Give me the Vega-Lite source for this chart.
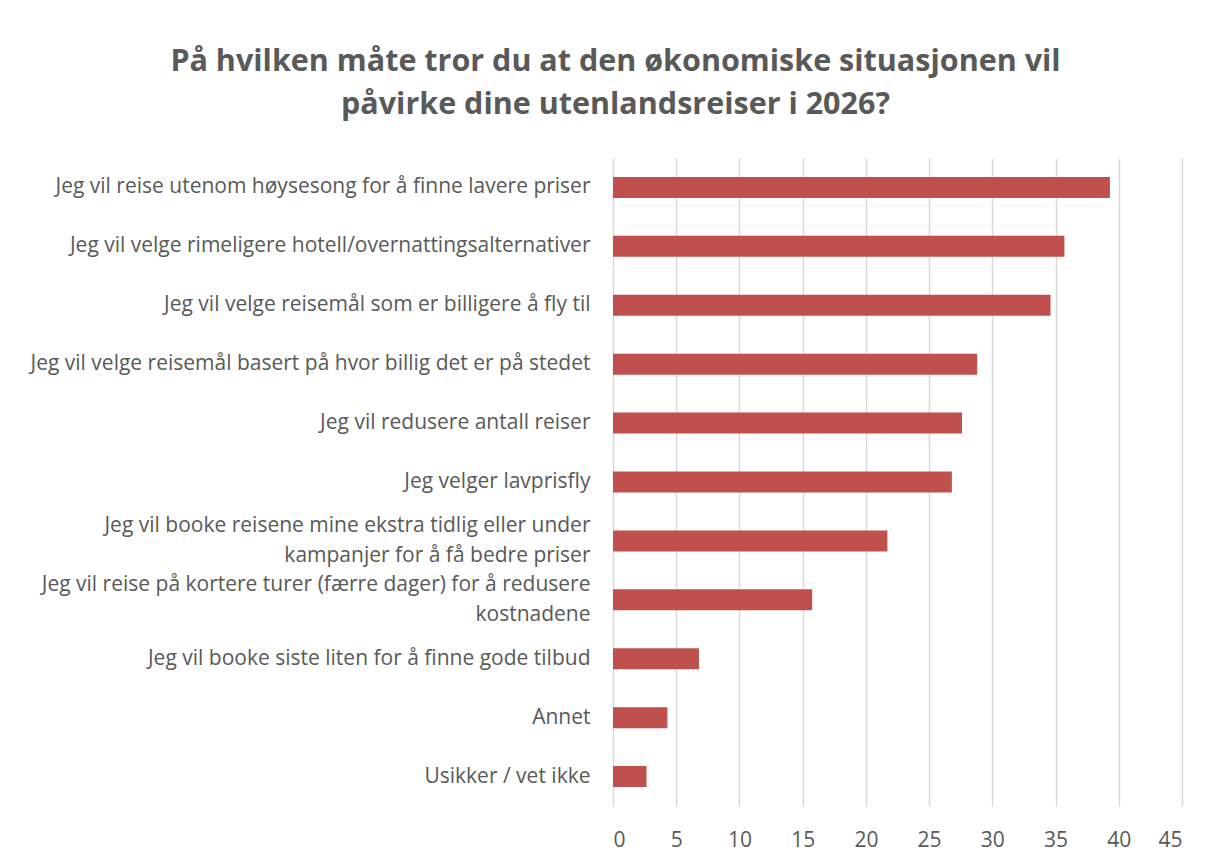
{
  "$schema": "https://vega.github.io/schema/vega-lite/v6.json",
  "width": 569,
  "height": 648,
  "autosize": {"type": "none"},
  "padding": {"left": 613, "top": 158, "right": 27, "bottom": 55},
  "background": "white",
  "config": {"view": {"stroke": null}, "font": "Open Sans"},
  "title": {
    "text": ["På hvilken måte tror du at den økonomiske situasjonen vil", "påvirke dine utenlandsreiser i 2026?"],
    "font": "Open Sans",
    "fontSize": 30.5,
    "fontWeight": "bold",
    "color": "#595959",
    "lineHeight": 43,
    "anchor": "middle",
    "frame": "group",
    "dx": -282,
    "offset": 38
  },
  "data": {
    "values": [
      {"label": "Jeg vil reise utenom høysesong for å finne lavere priser", "value": 39.3},
      {"label": "Jeg vil velge rimeligere hotell/overnattingsalternativer", "value": 35.7},
      {"label": "Jeg vil velge reisemål som er billigere å fly til", "value": 34.6},
      {"label": "Jeg vil velge reisemål basert på hvor billig det er på stedet", "value": 28.8},
      {"label": "Jeg vil redusere antall reiser", "value": 27.6},
      {"label": "Jeg velger lavprisfly", "value": 26.8},
      {"label": "Jeg vil booke reisene mine ekstra tidlig eller under|kampanjer for å få bedre priser", "value": 21.7},
      {"label": "Jeg vil reise på kortere turer (færre dager) for å redusere|kostnadene", "value": 15.75},
      {"label": "Jeg vil booke siste liten for å finne gode tilbud", "value": 6.8},
      {"label": "Annet", "value": 4.3},
      {"label": "Usikker / vet ikke", "value": 2.65}
    ]
  },
  "mark": {"type": "bar", "color": "#C0504D", "size": 21},
  "encoding": {
    "y": {
      "field": "label",
      "type": "nominal",
      "sort": null,
      "title": null,
      "axis": {
        "labelExpr": "split(datum.label, '|')",
        "labelFont": "Open Sans",
        "labelFontSize": 21,
        "labelColor": "#595959",
        "labelPadding": 23,
        "labelLineHeight": 30,
        "labelLimit": 0,
        "labelOffset": {"condition": {"test": "indexof(datum.value, '|') >= 0", "value": -15}, "value": 0},
        "ticks": false,
        "domain": false,
        "grid": false
      }
    },
    "x": {
      "field": "value",
      "type": "quantitative",
      "title": null,
      "scale": {"domain": [0, 45], "nice": false},
      "axis": {
        "values": [0, 5, 10, 15, 20, 25, 30, 35, 40, 45],
        "labelFont": "Open Sans",
        "labelFontSize": 21,
        "labelColor": "#595959",
        "labelPadding": 23,
        "ticks": false,
        "domain": false,
        "grid": true,
        "gridColor": "#D9D9D9",
        "gridWidth": 1.5
      }
    }
  }
}
